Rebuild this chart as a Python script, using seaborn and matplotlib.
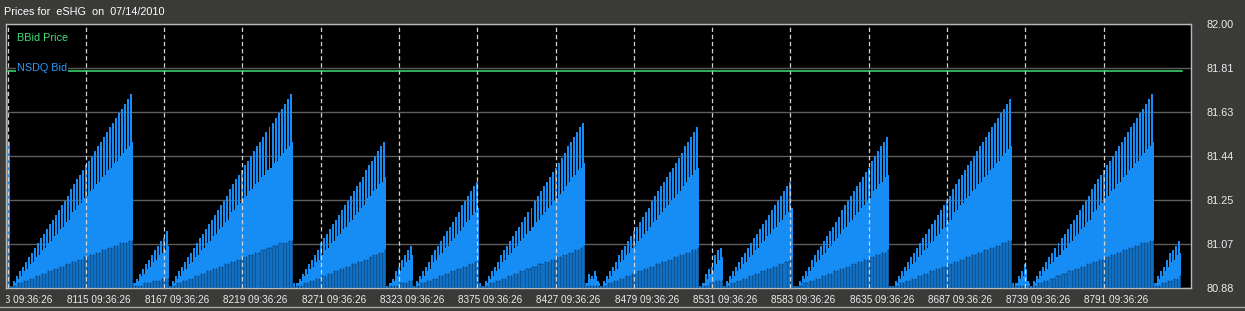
import numpy as np
import pandas as pd
import matplotlib
matplotlib.use("Agg")
import matplotlib.pyplot as plt
from matplotlib.patches import Rectangle
from matplotlib.lines import Line2D
import seaborn as sns

plt.rcParams["font.family"] = ["Liberation Sans", "DejaVu Sans"]

# ---------------- data ----------------
first_record = 8063
tick_records = [8063, 8115, 8167, 8219, 8271, 8323, 8375, 8427, 8479, 8531,
                8583, 8635, 8687, 8739, 8791]
tick_time = "09:36:26"
price_tick_labels = ["80.88", "81.07", "81.25", "81.44", "81.63", "81.81", "82.00"]
bbid_price = [81.80, 81.80]
bbid_records = [8063, 8843]

# NSDQ Bid – tall bars (even records)
nsdq_top = [
    81.71,
    80.89, 80.91, 80.93, 80.95, 80.97, 80.99, 81.01, 81.03, 81.05, 81.07,
    81.09, 81.11, 81.13, 81.15, 81.17, 81.19, 81.21, 81.23, 81.25, 81.27,
    81.30, 81.32, 81.34, 81.36, 81.38, 81.40, 81.42, 81.44, 81.46, 81.48,
    81.50, 81.52, 81.54, 81.56, 81.58, 81.60, 81.62, 81.64, 81.66, 81.68, 81.70,
    80.90, 80.92, 80.94, 80.96, 80.98, 81.00, 81.02, 81.04, 81.06, 81.08, 81.09, 81.12,
    80.89, 80.91, 80.93, 80.95, 80.97, 80.99, 81.01, 81.03, 81.05, 81.07,
    81.09, 81.11, 81.13, 81.15, 81.17, 81.19, 81.21, 81.23, 81.25, 81.27,
    81.30, 81.32, 81.34, 81.36, 81.38, 81.40, 81.42, 81.44, 81.46, 81.48,
    81.50, 81.52, 81.54, 81.56, 81.58, 81.60, 81.62, 81.64, 81.66, 81.68, 81.70,
    80.90,
    80.90, 80.92, 80.94, 80.96, 80.98, 81.00, 81.02, 81.04, 81.07, 81.09,
    81.11, 81.13, 81.15, 81.17, 81.19, 81.21, 81.23, 81.25, 81.27, 81.29,
    81.31, 81.33, 81.35, 81.38, 81.40, 81.42, 81.44, 81.46, 81.48, 81.50,
    80.89,
    80.90, 80.92, 80.95, 80.97, 81.00, 81.02, 81.04, 81.06,
    80.89, 80.91, 80.93, 80.95, 80.97, 80.99, 81.02, 81.04, 81.06, 81.08,
    81.10, 81.12, 81.14, 81.16, 81.18, 81.20, 81.23, 81.25, 81.27, 81.29,
    81.31, 81.33,
    80.90,
    80.89, 80.91, 80.93, 80.95, 80.97, 80.99, 81.02, 81.04, 81.06, 81.08,
    81.10, 81.12, 81.14, 81.16, 81.18, 81.20, 81.22, 81.25, 81.27, 81.29,
    81.31, 81.33, 81.35, 81.37, 81.39, 81.41, 81.43, 81.45, 81.48, 81.50,
    81.52, 81.54, 81.56, 81.58,
    80.90, 80.94, 80.93, 80.95, 80.91,
    80.89, 80.91, 80.93, 80.95, 80.97, 80.99, 81.02, 81.04, 81.06, 81.08,
    81.10, 81.12, 81.14, 81.16, 81.18, 81.20, 81.22, 81.25, 81.27, 81.29,
    81.31, 81.33, 81.35, 81.37, 81.39, 81.41, 81.43, 81.45, 81.48, 81.50,
    81.52, 81.54, 81.56,
    80.89,
    80.90, 80.94, 80.96, 80.97, 81.02, 81.04, 81.05,
    80.89, 80.91, 80.93, 80.95, 80.97, 80.99, 81.01, 81.03, 81.05, 81.07,
    81.09, 81.11, 81.13, 81.15, 81.17, 81.19, 81.21, 81.23, 81.25, 81.27,
    81.29, 81.31, 81.33,
    80.89,
    80.89, 80.91, 80.93, 80.95, 80.97, 81.00, 81.02, 81.04, 81.06, 81.08,
    81.10, 81.12, 81.14, 81.16, 81.18, 81.21, 81.23, 81.25, 81.27, 81.29,
    81.31, 81.33, 81.35, 81.37, 81.39, 81.42, 81.44, 81.46, 81.48, 81.50,
    81.52,
    80.89,
    80.89, 80.91, 80.93, 80.95, 80.97, 80.99, 81.01, 81.03, 81.05, 81.07,
    81.09, 81.11, 81.13, 81.15, 81.17, 81.19, 81.21, 81.23, 81.25, 81.27,
    81.30, 81.32, 81.34, 81.36, 81.38, 81.40, 81.42, 81.44, 81.46, 81.48,
    81.50, 81.52, 81.54, 81.56, 81.58, 81.60, 81.62, 81.64, 81.66, 81.68,
    80.90, 80.90, 80.93, 80.95, 80.98, 80.91,
    80.89, 80.91, 80.93, 80.95, 80.97, 80.99, 81.01, 81.03, 81.05, 81.07,
    81.09, 81.11, 81.13, 81.15, 81.17, 81.19, 81.21, 81.23, 81.25, 81.27,
    81.30, 81.32, 81.34, 81.36, 81.38, 81.40, 81.42, 81.44, 81.46, 81.48,
    81.50, 81.52, 81.54, 81.56, 81.58, 81.60, 81.62, 81.64, 81.66, 81.68, 81.70,
    80.90, 80.93, 80.95, 80.97, 81.00, 81.03, 81.04, 81.06, 81.08,
]

# NSDQ Bid – middle bars (odd records)
nsdq_mid = [
    81.50,
    80.89, 80.90, 80.92, 80.93, 80.95, 80.96, 80.98, 80.99, 81.01, 81.02,
    81.04, 81.05, 81.07, 81.08, 81.10, 81.11, 81.13, 81.14, 81.16, 81.17,
    81.20, 81.21, 81.23, 81.24, 81.26, 81.27, 81.29, 81.30, 81.32, 81.33,
    81.35, 81.36, 81.38, 81.39, 81.41, 81.42, 81.44, 81.45, 81.47, 81.48, 81.50,
    80.90, 80.91, 80.93, 80.94, 80.96, 80.97, 80.99, 81.00, 81.02, 81.03, 81.04, 81.06,
    80.89, 80.90, 80.92, 80.93, 80.95, 80.96, 80.98, 80.99, 81.01, 81.02,
    81.04, 81.05, 81.07, 81.08, 81.10, 81.11, 81.13, 81.14, 81.16, 81.17,
    81.20, 81.21, 81.23, 81.24, 81.26, 81.27, 81.29, 81.30, 81.32, 81.33,
    81.35, 81.36, 81.38, 81.39, 81.41, 81.42, 81.44, 81.45, 81.47, 81.48, 81.50,
    80.89,
    80.90, 80.91, 80.93, 80.94, 80.96, 80.97, 80.99, 81.00, 81.02, 81.04,
    81.05, 81.07, 81.08, 81.10, 81.11, 81.13, 81.14, 81.16, 81.17, 81.19,
    81.20, 81.22, 81.23, 81.26, 81.27, 81.29, 81.30, 81.32, 81.33, 81.35,
    80.89,
    80.90, 80.91, 80.93, 80.95, 80.97, 80.99, 81.00, 81.02,
    80.89, 80.90, 80.92, 80.93, 80.95, 80.96, 80.99, 81.00, 81.02, 81.03,
    81.05, 81.06, 81.08, 81.09, 81.11, 81.12, 81.14, 81.16, 81.17, 81.19,
    81.20, 81.22,
    80.89,
    80.89, 80.90, 80.92, 80.93, 80.95, 80.96, 80.99, 81.00, 81.02, 81.03,
    81.05, 81.06, 81.08, 81.09, 81.11, 81.12, 81.14, 81.16, 81.17, 81.19,
    81.20, 81.22, 81.23, 81.25, 81.26, 81.28, 81.29, 81.31, 81.33, 81.35,
    81.36, 81.38, 81.39, 81.41,
    80.90, 80.92, 80.92, 80.93, 80.90,
    80.89, 80.90, 80.92, 80.93, 80.95, 80.96, 80.99, 81.00, 81.02, 81.03,
    81.05, 81.06, 81.08, 81.09, 81.11, 81.12, 81.14, 81.16, 81.17, 81.19,
    81.20, 81.22, 81.23, 81.25, 81.26, 81.28, 81.29, 81.31, 81.33, 81.35,
    81.36, 81.38, 81.39,
    80.89,
    80.90, 80.92, 80.94, 80.95, 80.98, 81.00, 81.01,
    80.89, 80.90, 80.92, 80.93, 80.95, 80.96, 80.98, 80.99, 81.01, 81.02,
    81.04, 81.05, 81.07, 81.08, 81.10, 81.11, 81.13, 81.14, 81.16, 81.17,
    81.19, 81.20, 81.22,
    80.89,
    80.89, 80.90, 80.92, 80.93, 80.95, 80.97, 80.99, 81.00, 81.02, 81.03,
    81.05, 81.06, 81.08, 81.09, 81.11, 81.13, 81.14, 81.16, 81.17, 81.19,
    81.20, 81.22, 81.23, 81.25, 81.26, 81.29, 81.30, 81.32, 81.33, 81.35,
    81.36,
    80.89,
    80.89, 80.90, 80.92, 80.93, 80.95, 80.96, 80.98, 80.99, 81.01, 81.02,
    81.04, 81.05, 81.07, 81.08, 81.10, 81.11, 81.13, 81.14, 81.16, 81.17,
    81.20, 81.21, 81.23, 81.24, 81.26, 81.27, 81.29, 81.30, 81.32, 81.33,
    81.35, 81.36, 81.38, 81.39, 81.41, 81.42, 81.44, 81.45, 81.47, 81.48,
    80.89, 80.90, 80.92, 80.93, 80.96, 80.90,
    80.89, 80.90, 80.92, 80.93, 80.95, 80.96, 80.98, 80.99, 81.01, 81.02,
    81.04, 81.05, 81.07, 81.08, 81.10, 81.11, 81.13, 81.14, 81.16, 81.17,
    81.20, 81.21, 81.23, 81.24, 81.26, 81.27, 81.29, 81.30, 81.32, 81.33,
    81.35, 81.36, 81.38, 81.39, 81.41, 81.42, 81.44, 81.45, 81.47, 81.48, 81.50,
    80.90, 80.92, 80.93, 80.95, 80.97, 80.99, 81.00, 81.02, 81.03,
]

# NSDQ Bid – low bars (odd records, drawn with dark edges)
nsdq_low = [
    81.09,
    80.89, 80.89, 80.90, 80.90, 80.91, 80.91, 80.92, 80.92, 80.93, 80.93,
    80.94, 80.94, 80.95, 80.95, 80.96, 80.96, 80.97, 80.97, 80.98, 80.98,
    80.99, 80.99, 81.00, 81.00, 81.01, 81.01, 81.02, 81.02, 81.03, 81.03,
    81.04, 81.04, 81.05, 81.05, 81.06, 81.06, 81.07, 81.07, 81.07, 81.08, 81.08,
    80.89, 80.89, 80.89, 80.90, 80.90, 80.90, 80.91, 80.91, 80.91, 80.92, 80.92, 80.92,
    80.89, 80.89, 80.90, 80.90, 80.91, 80.91, 80.92, 80.92, 80.93, 80.93,
    80.94, 80.94, 80.95, 80.95, 80.96, 80.96, 80.97, 80.97, 80.98, 80.98,
    80.99, 80.99, 81.00, 81.00, 81.01, 81.01, 81.02, 81.02, 81.03, 81.03,
    81.04, 81.04, 81.05, 81.05, 81.06, 81.06, 81.07, 81.07, 81.07, 81.08, 81.08,
    80.89,
    80.89, 80.89, 80.90, 80.90, 80.91, 80.91, 80.92, 80.92, 80.93, 80.93,
    80.94, 80.94, 80.95, 80.95, 80.96, 80.96, 80.97, 80.97, 80.98, 80.98,
    80.99, 80.99, 81.00, 81.00, 81.01, 81.02, 81.02, 81.03, 81.03, 81.04,
    80.89,
    80.89, 80.89, 80.89, 80.90, 80.90, 80.90, 80.91, 80.91,
    80.89, 80.89, 80.90, 80.90, 80.91, 80.91, 80.92, 80.92, 80.93, 80.93,
    80.94, 80.94, 80.95, 80.95, 80.96, 80.96, 80.97, 80.97, 80.98, 80.98,
    80.99, 80.99,
    80.89,
    80.89, 80.89, 80.90, 80.90, 80.91, 80.91, 80.92, 80.92, 80.93, 80.93,
    80.94, 80.94, 80.95, 80.95, 80.96, 80.96, 80.97, 80.97, 80.98, 80.98,
    80.99, 80.99, 81.00, 81.00, 81.01, 81.01, 81.02, 81.02, 81.03, 81.03,
    81.04, 81.04, 81.05, 81.06,
    80.89, 80.89, 80.89, 80.89, 80.89,
    80.89, 80.89, 80.90, 80.90, 80.91, 80.91, 80.92, 80.92, 80.93, 80.93,
    80.94, 80.94, 80.95, 80.95, 80.96, 80.96, 80.97, 80.97, 80.98, 80.98,
    80.99, 80.99, 81.00, 81.00, 81.01, 81.01, 81.02, 81.02, 81.03, 81.03,
    81.04, 81.04, 81.05,
    80.89,
    80.89, 80.89, 80.90, 80.90, 80.91, 80.91, 80.91,
    80.89, 80.89, 80.90, 80.90, 80.91, 80.91, 80.92, 80.92, 80.93, 80.93,
    80.94, 80.94, 80.95, 80.95, 80.96, 80.96, 80.97, 80.97, 80.98, 80.98,
    80.99, 80.99, 81.00,
    80.89,
    80.89, 80.89, 80.90, 80.90, 80.91, 80.91, 80.92, 80.92, 80.93, 80.93,
    80.94, 80.94, 80.95, 80.95, 80.96, 80.96, 80.97, 80.97, 80.98, 80.98,
    80.99, 80.99, 81.00, 81.00, 81.01, 81.01, 81.02, 81.02, 81.03, 81.03,
    81.04,
    80.89,
    80.89, 80.89, 80.90, 80.90, 80.91, 80.91, 80.92, 80.92, 80.93, 80.93,
    80.94, 80.94, 80.95, 80.95, 80.96, 80.96, 80.97, 80.97, 80.98, 80.98,
    80.99, 80.99, 81.00, 81.00, 81.01, 81.01, 81.02, 81.02, 81.03, 81.03,
    81.04, 81.04, 81.05, 81.05, 81.06, 81.06, 81.07, 81.07, 81.08, 81.08,
    80.89, 80.89, 80.89, 80.89, 80.89, 80.89,
    80.89, 80.89, 80.90, 80.90, 80.91, 80.91, 80.92, 80.92, 80.93, 80.93,
    80.94, 80.94, 80.95, 80.95, 80.96, 80.96, 80.97, 80.97, 80.98, 80.98,
    80.99, 80.99, 81.00, 81.00, 81.01, 81.01, 81.02, 81.02, 81.03, 81.03,
    81.04, 81.04, 81.05, 81.05, 81.06, 81.06, 81.07, 81.07, 81.07, 81.08, 81.08,
    80.89, 80.89, 80.90, 80.90, 80.91, 80.91, 80.92, 80.92, 80.93,
]

assert len(nsdq_top) == len(nsdq_mid) == len(nsdq_low), (len(nsdq_top), len(nsdq_mid), len(nsdq_low))

# ---------------- style ----------------
FIG_BG = "#3a3a38"
BLUE = "#168cf5"
GREEN = "#3fe07a"
TEXT = "#ececec"

W, H = 1245, 311
fig = plt.figure(figsize=(W / 100, H / 100), dpi=100, facecolor=FIG_BG)
ax_left, ax_bottom = 6 / W, 23 / H
ax = fig.add_axes([ax_left, ax_bottom, 1185 / W, 264.4 / H])
ax.set_facecolor("black")

n = len(nsdq_top)
even_records = first_record + 2 * np.arange(n)
odd_records = even_records + 1

df_top = pd.DataFrame({"record": even_records, "price": nsdq_top})
df_mid = pd.DataFrame({"record": odd_records, "price": nsdq_mid})
df_low = pd.DataFrame({"record": odd_records, "price": nsdq_low})

sns.barplot(data=df_top, x="record", y="price", native_scale=True, color=BLUE,
            saturation=1, width=0.66, errorbar=None, linewidth=0, ax=ax, zorder=2)
sns.barplot(data=df_mid, x="record", y="price", native_scale=True, color=BLUE,
            saturation=1, width=0.36, errorbar=None, linewidth=0, ax=ax, zorder=2)
sns.barplot(data=df_low, x="record", y="price", native_scale=True, color=BLUE,
            saturation=1, width=0.36, errorbar=None, edgecolor="black",
            linewidth=0.28, ax=ax, zorder=3)

sns.lineplot(x=bbid_records, y=bbid_price, color=GREEN, linewidth=1.1, ax=ax, zorder=5)

ax.set_xlim(8062, 8849)
ax.set_ylim(80.88, 82.00)

# vertical dashed separators
ax.vlines(tick_records, 80.88, 82.0, colors="#d2d2d2", linewidth=0.9,
          linestyles=(0, (3.5, 2.2)), zorder=4)

# y axis on the right
yt = np.linspace(80.88, 82.00, len(price_tick_labels))
ax.yaxis.tick_right()
ax.set_yticks(yt)
ax.set_yticklabels(price_tick_labels)
ax.tick_params(axis="y", length=0, pad=11.5, labelsize=7.8, labelcolor=TEXT)
ax.yaxis.grid(True, color="#5e5e5e", linewidth=1)
ax.set_axisbelow(True)

# x labels (centred a little right of each separator)
ax.set_xticks([r + 8.6 for r in tick_records])
ax.set_xticklabels([f"{r} {tick_time}" for r in tick_records])
ax.tick_params(axis="x", length=0, pad=5, labelsize=7.2, labelcolor=TEXT)
ax.xaxis.grid(False)
ax.set_xlabel("")
ax.set_ylabel("")
clip_rect = Rectangle((ax_left, 0), 1 - ax_left, 1, transform=fig.transFigure)
for lbl in ax.get_xticklabels():
    lbl.set_clip_path(clip_rect)
    lbl.set_clip_on(True)

for s in ax.spines.values():
    s.set_color("#b9b9b9")
    s.set_linewidth(1)

# legend-style labels
ax.text(0.0093, 0.9455, "BBid Price", color=GREEN, fontsize=7.8,
        transform=ax.transAxes, va="center", ha="left", zorder=6)
ax.text(0.0093, 0.833, "NSDQ Bid", color="#2a9af5", fontsize=7.8,
        transform=ax.transAxes, va="center", ha="left", zorder=6,
        bbox=dict(boxstyle="square,pad=0.1", facecolor="black", edgecolor="none"))

fig.text(4 / W, 1 - 12 / H, "Prices for  eSHG  on  07/14/2010", color="white",
         fontsize=7.8, va="center", ha="left")

fig.add_artist(Line2D([0, 1], [4 / H, 4 / H], transform=fig.transFigure,
                      color="#a8a8a8", linewidth=1))

fig.savefig("out.png", dpi=100, facecolor=fig.get_facecolor())
